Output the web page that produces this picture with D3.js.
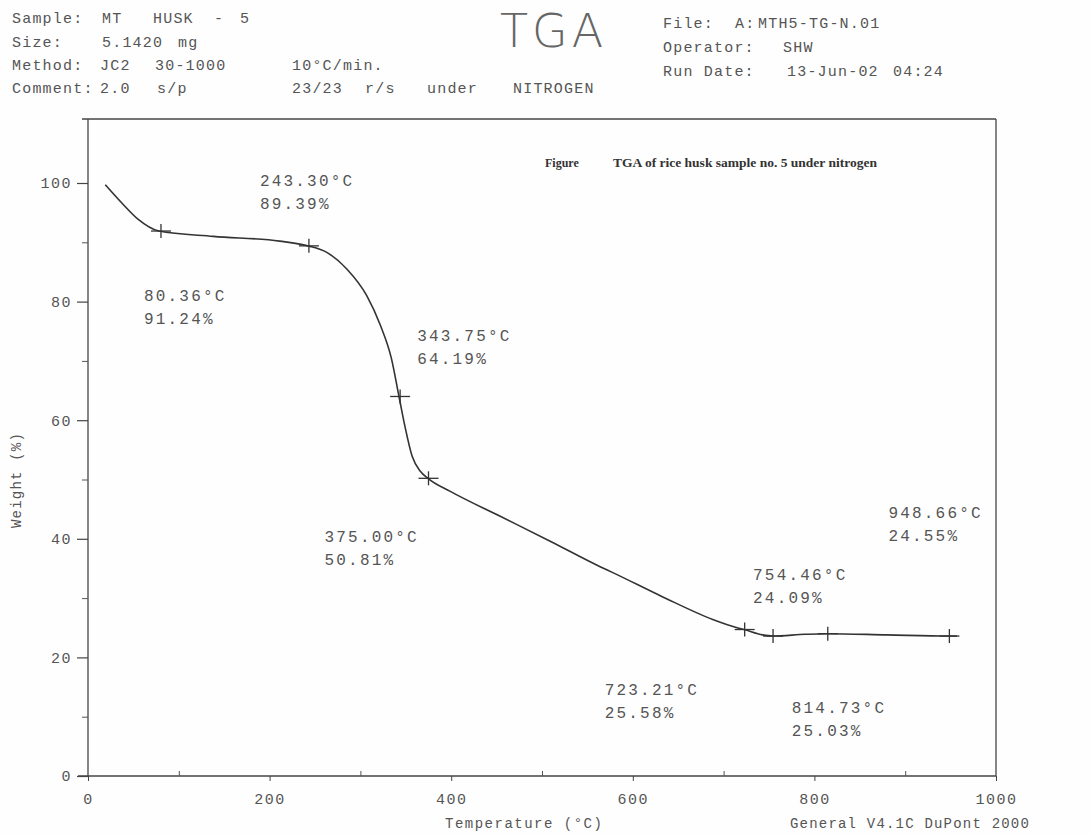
<!DOCTYPE html>
<html>
<head>
<meta charset="utf-8">
<script src="https://cdn.jsdelivr.net/npm/d3@7"></script>
<style>
  body { margin: 0; background: #fff; }
  .mono { font-family: "Liberation Mono", "DejaVu Sans Mono", monospace; fill: #555; }
  .serif { font-family: "Liberation Serif", "DejaVu Serif", serif; font-weight: bold; fill: #333; }
</style>
</head>
<body>
<div id="chartHolder"></div>
<script>
// curve (temperature in °C, weight in %)
const tempC = [19, 38, 55, 78, 138, 211, 242, 263, 285, 307, 322, 334, 342.5, 349, 357, 366, 374.4,
               399, 454, 509, 564, 578, 633, 688, 715, 722.5, 743, 754, 790, 814, 880, 948, 957];
const weightPct = [99.7, 96.5, 93.9, 91.9, 91.0, 90.2, 89.4, 88.3, 85.5, 81.0, 76.0, 70.5, 64.0, 59.0, 53.9, 51.4, 50.2,
                   48.0, 43.8, 39.6, 35.3, 34.3, 30.2, 26.4, 25.0, 24.7, 23.8, 23.6, 23.9, 24.0, 23.8, 23.6, 23.6];

// analysis points (+ marks) and their printed values
const markT = [80.36, 243.30, 343.75, 375.00, 723.21, 754.46, 814.73, 948.66];
const markW = [91.9, 89.4, 64.0, 50.2, 24.7, 23.6, 24.0, 23.6];          // where the cross sits
const markLabelW = [91.24, 89.39, 64.19, 50.81, 25.58, 24.09, 25.03, 24.55]; // what is printed

const xTicks = [0, 200, 400, 600, 800, 1000];
const xMinor = [100, 300, 500, 700, 900];
const yTicks = [0, 20, 40, 60, 80, 100];
const yMinor = [10, 30, 50, 70, 90];

const w = 1091, h = 834;
const pLeft = 88, pRight = 996, pTop = 119, pBottom = 776;

const x = d3.scaleLinear().domain([0, 1000]).range([pLeft, pRight]);
const y = d3.scaleLinear().domain([0, 100]).range([pBottom, 183]);

const svg = d3.select("#chartHolder").append("svg")
  .attr("width", w).attr("height", h);

svg.append("rect").attr("width", w).attr("height", h).attr("fill", "#fefefe");

// header block
const headL = [
  [18, [[12, "Sample:"], [102, "MT"], [153, "HUSK"], [214, "-"], [240, "5"]]],
  [42, [[12, "Size:"], [102, "5.1420"], [178, "mg"]]],
  [65, [[12, "Method:"], [100, "JC2"], [155, "30-1000"], [292, "10°C/min."]]],
  [88, [[12, "Comment:"], [100, "2.0"], [157, "s/p"], [292, "23/23"], [365, "r/s"], [427, "under"], [513, "NITROGEN"]]],
  [23, [[663, "File:"], [735, "A:"], [758, "MTH5-TG-N.01"]]],
  [47, [[663, "Operator:"], [783, "SHW"]]],
  [71, [[663, "Run Date:"], [787, "13-Jun-02"], [893, "04:24"]]]
];
headL.forEach(function(row) {
  row[1].forEach(function(t) {
    svg.append("text").attr("class", "mono")
      .attr("x", t[0]).attr("y", row[0]).attr("dy", "0.35em")
      .style("font-size", "15px").style("letter-spacing", "1.2px")
      .text(t[1]);
  });
});

svg.append("text")
  .attr("x", 500).attr("y", 47)
  .style("font-family", "'DejaVu Sans', sans-serif")
  .style("font-weight", 200)
  .style("font-size", "46px")
  .style("letter-spacing", "4px")
  .attr("fill", "#666")
  .text("TGA");

// frame
const frame = svg.append("g").attr("stroke", "#444").attr("stroke-width", 1.3).attr("fill", "none");
frame.append("line").attr("x1", pLeft - 6).attr("x2", pRight).attr("y1", pTop).attr("y2", pTop);
frame.append("line").attr("x1", pRight).attr("x2", pRight).attr("y1", pTop).attr("y2", pBottom);
frame.append("line").attr("x1", pLeft).attr("x2", pLeft).attr("y1", pTop).attr("y2", pBottom);
frame.append("line").attr("x1", pLeft - 10).attr("x2", pRight).attr("y1", pBottom).attr("y2", pBottom);

// y axis
const yAxis = d3.axisLeft(y).tickValues(yTicks).tickSize(11).tickPadding(5);
const gy = svg.append("g").attr("transform", "translate(" + pLeft + ",0)").call(yAxis);
gy.select(".domain").remove();
gy.selectAll("line").attr("stroke", "#444").attr("stroke-width", 1.2);
gy.selectAll("text").attr("class", "mono").attr("fill", "#555")
  .style("font-size", "15px").style("letter-spacing", "1.5px");

const gyMinor = svg.append("g").attr("transform", "translate(" + pLeft + ",0)")
  .call(d3.axisLeft(y).tickValues(yMinor).tickSize(6).tickFormat(""));
gyMinor.select(".domain").remove();
gyMinor.selectAll("line").attr("stroke", "#555");

// x axis
const xAxis = d3.axisBottom(x).tickValues(xTicks).tickSize(5).tickPadding(12)
  .tickFormat(d3.format("d"));
const gx = svg.append("g").attr("transform", "translate(0," + pBottom + ")").call(xAxis);
gx.select(".domain").remove();
gx.selectAll("line").attr("stroke", "#444");
gx.selectAll("text").attr("class", "mono").attr("fill", "#555")
  .style("font-size", "15px").style("letter-spacing", "1.5px");

const gxMinor = svg.append("g").attr("transform", "translate(0," + pBottom + ")")
  .call(d3.axisTop(x).tickValues(xMinor).tickSize(5).tickFormat(""));
gxMinor.select(".domain").remove();
gxMinor.selectAll("line").attr("stroke", "#555");

// axis titles
svg.append("text").attr("class", "mono")
  .attr("text-anchor", "middle")
  .attr("transform", "translate(16," + 480 + ")rotate(-90)")
  .attr("dy", "0.35em")
  .style("font-size", "14px").style("letter-spacing", "1.2px")
  .text("Weight  (%)");

svg.append("text").attr("class", "mono")
  .attr("x", 445).attr("y", 823).attr("dy", "0.35em")
  .style("font-size", "14px").style("letter-spacing", "1.5px")
  .text("Temperature (°C)");

svg.append("text").attr("class", "mono")
  .attr("x", 790).attr("y", 823).attr("dy", "0.35em")
  .style("font-size", "14px").style("letter-spacing", "1.2px")
  .text("General V4.1C DuPont 2000");

// figure caption
svg.append("text").attr("class", "serif")
  .attr("x", 545).attr("y", 167)
  .style("font-size", "12px")
  .text("Figure");
svg.append("text").attr("class", "serif")
  .attr("x", 613).attr("y", 167)
  .style("font-size", "13.5px")
  .text("TGA of rice husk sample no. 5 under nitrogen");

// curve
const pts = tempC.map((t, i) => [t, weightPct[i]]);
const line = d3.line()
  .x((d) => x(d[0]))
  .y((d) => y(d[1]))
  .curve(d3.curveMonotoneX);

svg.append("path")
  .datum(pts)
  .attr("d", line)
  .attr("fill", "none")
  .attr("stroke", "#333")
  .attr("stroke-width", 1.6);

// cross markers
const marks = svg.selectAll(".mark")
  .data(markT.map((t, i) => ({ t: t, w: markW[i], lw: markLabelW[i] })))
  .enter()
  .append("g")
  .attr("class", "mark")
  .attr("transform", (d) => "translate(" + x(d.t) + "," + y(d.w) + ")");
marks.append("line").attr("x1", -10).attr("x2", 10).attr("stroke", "#333").attr("stroke-width", 1.3);
marks.append("line").attr("y1", -7).attr("y2", 7).attr("stroke", "#333").attr("stroke-width", 1.3);

// label offsets from each cross (left edge, first line centre)
const labelOffset = [[-17, 64], [-49, -65], [17, -61], [-104, 58], [-140, 60], [-20, -62], [-36, 74], [-61, -124]];

const notes = svg.selectAll(".note")
  .data(markT.map((t, i) => ({ t: t, w: markW[i], lw: markLabelW[i], o: labelOffset[i] })))
  .enter()
  .append("text")
  .attr("class", "mono note")
  .style("font-size", "16px").style("letter-spacing", "2.2px")
  .attr("x", (d) => x(d.t) + d.o[0])
  .attr("y", (d) => y(d.w) + d.o[1]);
notes.append("tspan")
  .attr("dy", "0.35em")
  .text((d) => d.t.toFixed(2) + "°C");
notes.append("tspan")
  .attr("x", (d) => x(d.t) + d.o[0])
  .attr("dy", 23)
  .text((d) => d.lw.toFixed(2) + "%");
</script>
</body>
</html>
